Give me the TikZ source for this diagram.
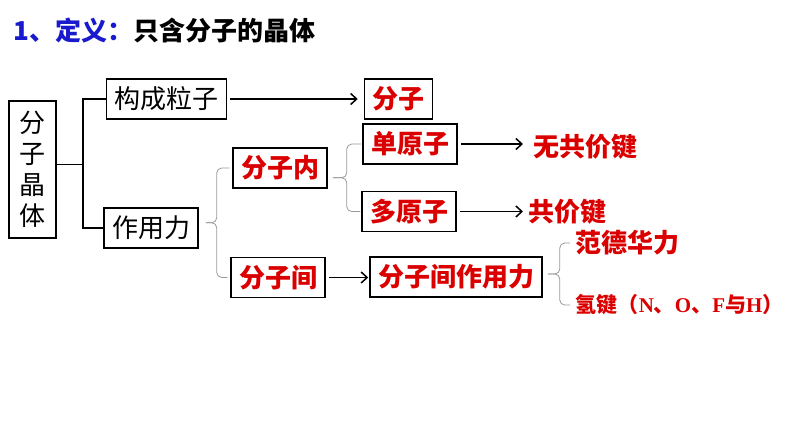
\documentclass[tikz,border=0pt]{standalone}
\usepackage{fontspec}
\usepackage{tikz}
\usetikzlibrary{positioning}
\usetikzlibrary{calc}
\usetikzlibrary{arrows.meta}
\newfontfamily\cjk{Noto Sans CJK SC}
\newfontfamily\tms{Liberation Serif}
\definecolor{hong}{RGB}{218,0,0}
\definecolor{lan}{RGB}{25,25,205}
\tikzset{every picture/.style={line width=1.5pt}}

\begin{document}
\begin{tikzpicture}[x=1pt,y=-1pt,
every node/.style={font=\cjk\fontsize{26}{31}\selectfont},
box/.style={draw, inner xsep=8pt, inner ysep=0pt, minimum height=40pt},
hz/.style={text=hong, font=\cjk\bfseries\fontsize{26}{31}\selectfont},
wz/.style={inner sep=0pt},
jt/.style={-{Straight Barb[length=6pt,width=11pt]}, shorten <=3pt},
kh/.style={draw=gray!80, line width=0.8pt, rounded corners=5pt}]

\useasboundingbox (0,0) rectangle (794,447);

% title
\node (bt) at (13,31) [anchor=west, inner sep=0pt] {\bfseries\textcolor{lan}{1、定义：}只含分子的晶体};

% boxes
\node (fzjt) at (32.5,169.5) [draw, minimum width=47pt, minimum height=137pt, align=center, inner sep=0pt] {分\\子\\晶\\体};
\node (gclz) at (166.5,99) [box] {构成粒子};
\node (zyl) at (151,228) [box] {作用力};
\node (fz) at (398.5,99) [box, hz] {分子};
\node (fzn) at (280,168) [box, hz] {分子内};
\node (fzj) at (278,277.5) [box, hz] {分子间};
\node (dyz) at (410,144) [box, hz] {单原子};
\node (dyz2) at (409,211.5) [box, hz] {多原子};
\node (fzjzyl) at (456,277) [box, hz] {分子间作用力};

% red texts
\node (wgjj) at (533,147) [wz, hz, anchor=west] {无共价键};
\node (gjj) at (528,212) [wz, hz, anchor=west] {共价键};
\node (fdhl) at (575,243) [wz, hz, anchor=west] {范德华力};
\node (qj) at (575,305) [wz, anchor=west, text=hong, font=\cjk\bfseries\fontsize{21}{25}\selectfont] {氢键（{\tms N}、{\tms O}、{\tms F}与{\tms H}）};

% left bracket
\draw ($(fzjt.east)+(0,-5)$) -- ++(26,0) coordinate (k);
\draw (gclz.west) -| (k) |- (zyl.west);

% arrows
\draw[jt, shorten >=6pt] (gclz.east) -- (fz.west);
\draw[jt, shorten >=10pt] (dyz.east) -- (dyz.east -| wgjj.west);
\draw[jt, shorten >=5pt] (dyz2.east) -- (dyz2.east -| gjj.west);
\draw[jt, shorten >=1pt] (fzj.east) -- (fzj.east -| fzjzyl.west);

% braces
\coordinate (m1) at ($(fzn.west)!0.5!(fzj.west)$);
\draw[kh] ($(fzn.west)+(-3,0)$) -| ($(m1 -| zyl.east)+(18,0)$) -- ($(m1 -| zyl.east)+(7,0)$);
\draw[kh] ($(fzj.west)+(-3,0)$) -| ($(m1 -| zyl.east)+(18,0)$) -- ($(m1 -| zyl.east)+(7,0)$);

\coordinate (m2) at ($(dyz.west)!0.5!(dyz2.west)$);
\draw[kh] ($(dyz.west)+(-1,0)$) -| ($(m2 -| fzn.east)+(19,0)$) -- ($(m2 -| fzn.east)+(5,0)$);
\draw[kh] ($(dyz2.west)+(-1,0)$) -| ($(m2 -| fzn.east)+(19,0)$) -- ($(m2 -| fzn.east)+(5,0)$);

\coordinate (m3) at ($(fdhl.west)!0.5!(qj.west)$);
\draw[kh] ($(fdhl.west)+(-5,0)$) -| ($(m3 -| fzjzyl.east)+(17,0)$) -- ($(m3 -| fzjzyl.east)+(5,0)$);
\draw[kh] ($(qj.west)+(-5,0)$) -| ($(m3 -| fzjzyl.east)+(17,0)$) -- ($(m3 -| fzjzyl.east)+(5,0)$);

\end{tikzpicture}
\end{document}
